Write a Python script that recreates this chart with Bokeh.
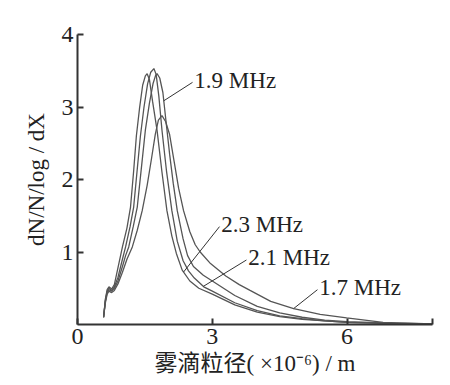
import numpy as np
from bokeh.plotting import figure
from bokeh.models import Range1d, FixedTicker, ColumnDataSource
from bokeh.core.properties import value
from bokeh.embed import file_html
from bokeh.resources import INLINE

# Series: 2.3 MHz
x_23 = [0.58, 0.62, 0.66, 0.70, 0.76, 0.82, 0.90, 1.00, 1.10, 1.18, 1.25, 1.31, 1.38, 1.45, 1.51, 1.55,
        1.60, 1.67, 1.77, 1.88, 1.99, 2.10, 2.20, 2.33, 2.50, 2.70, 3.00, 3.50, 4.00, 4.50, 5.00, 5.50, 6.00, 7.00, 7.90]
y_23 = [0.10, 0.35, 0.48, 0.52, 0.49, 0.55, 0.78, 1.07, 1.33, 1.62, 2.12, 2.60, 2.98, 3.30, 3.43, 3.46,
        3.38, 3.08, 2.68, 2.10, 1.57, 1.22, 0.98, 0.75, 0.60, 0.50, 0.42, 0.27, 0.17, 0.11, 0.07, 0.05, 0.03, 0.015, 0.01]
# Series: 2.1 MHz
x_21 = [0.58, 0.62, 0.66, 0.70, 0.76, 0.82, 0.90, 1.00, 1.07, 1.17, 1.25, 1.32, 1.40, 1.48, 1.56, 1.63, 1.70,
        1.75, 1.81, 1.88, 1.98, 2.10, 2.22, 2.35, 2.47, 2.60, 2.81, 3.00, 3.50, 4.00, 4.50, 5.00, 5.50, 6.00, 7.00, 7.90]
y_21 = [0.10, 0.33, 0.46, 0.50, 0.47, 0.52, 0.65, 0.90, 1.07, 1.35, 1.62, 2.08, 2.60, 3.00, 3.32, 3.48, 3.53,
        3.45, 3.15, 2.68, 2.12, 1.57, 1.15, 0.88, 0.74, 0.64, 0.52, 0.46, 0.30, 0.19, 0.12, 0.08, 0.05, 0.03, 0.015, 0.01]
# Series: 1.9 MHz
x_19 = [0.58, 0.62, 0.66, 0.70, 0.76, 0.82, 0.90, 1.00, 1.07, 1.14, 1.24, 1.33, 1.42, 1.51, 1.60, 1.68, 1.74, 1.77,
        1.83, 1.90, 1.97, 2.05, 2.13, 2.22, 2.35, 2.45, 2.58, 2.80, 3.00, 3.50, 4.00, 4.50, 5.00, 5.50, 6.00, 7.00, 7.90]
y_19 = [0.10, 0.32, 0.44, 0.48, 0.46, 0.50, 0.60, 0.80, 0.95, 1.07, 1.35, 1.62, 2.15, 2.68, 3.05, 3.32, 3.44, 3.46,
        3.40, 3.20, 2.80, 2.35, 1.95, 1.57, 1.18, 0.95, 0.80, 0.68, 0.60, 0.40, 0.25, 0.16, 0.10, 0.06, 0.04, 0.02, 0.01]
# Series: 1.7 MHz
x_17 = [0.58, 0.62, 0.66, 0.70, 0.76, 0.82, 0.90, 1.00, 1.10, 1.22, 1.33, 1.44, 1.55, 1.65, 1.73, 1.80, 1.88,
        1.96, 2.05, 2.15, 2.25, 2.36, 2.50, 2.62, 2.73, 2.96, 3.30, 3.60, 3.84, 4.30, 4.81, 5.40, 5.99, 6.80, 7.90]
y_17 = [0.10, 0.30, 0.42, 0.46, 0.44, 0.47, 0.56, 0.72, 0.90, 1.07, 1.30, 1.57, 1.92, 2.30, 2.62, 2.82, 2.88,
        2.80, 2.62, 2.25, 1.88, 1.57, 1.28, 1.10, 1.00, 0.84, 0.67, 0.55, 0.47, 0.32, 0.22, 0.14, 0.09, 0.03, 0.01]

series_names = ["2.3 MHz", "2.1 MHz", "1.9 MHz", "1.7 MHz"]
series_x = [x_23, x_21, x_19, x_17]
series_y = [y_23, y_21, y_19, y_17]

# Callouts: x on curve where pointer starts, and label anchor (x, y)
pointer_x = [2.36, 2.80, 1.92, 4.81]
label_x = [3.20, 3.80, 2.60, 5.38]
label_y = [1.38, 0.92, 3.37, 0.51]

x_ticks = [0, 3, 6, 7.9]
y_ticks = [1, 2, 3, 4]

SERIF = "Liberation Serif"
p = figure(width=450, height=385, output_backend="svg", toolbar_location=None,
           x_range=Range1d(0, 7.9), y_range=Range1d(0, 4),
           min_border_left=77, min_border_right=18, min_border_top=34, min_border_bottom=61)
p.outline_line_color = None
p.grid.visible = False
p.background_fill_color = "white"

line_color = "#555555"
for xs, ys in zip(series_x, series_y):
    p.line(xs, ys, line_color=line_color, line_width=1.3)

# Pointer lines from curves to labels
px0 = []
py0 = []
for i, xs in enumerate(series_x):
    px0.append(pointer_x[i])
    py0.append(float(np.interp(pointer_x[i], xs, series_y[i])))
p.segment(x0=px0, y0=py0, x1=[lx - 0.04 for lx in label_x], y1=[ly - 0.03 for ly in label_y],
          line_color="#333333", line_width=1)
src = ColumnDataSource(dict(x=label_x, y=label_y, t=series_names))
p.text(x="x", y="y", text="t", source=src, text_font=value(SERIF), text_font_size="23px",
       text_color="#222222", text_baseline="middle", text_align="left")

for ax in (p.xaxis[0], p.yaxis[0]):
    ax.axis_line_color = "#333333"
    ax.axis_line_width = 2
    ax.major_tick_line_color = "#333333"
    ax.major_tick_line_width = 2
    ax.major_tick_in = 6
    ax.major_tick_out = 0
    ax.minor_tick_line_color = None
    ax.major_label_text_font = SERIF
    ax.major_label_text_font_size = "24px"
    ax.major_label_text_color = "#222222"
    ax.axis_label_text_font = "'Liberation Serif', 'Noto Sans CJK SC'"
    ax.axis_label_text_font_size = "23px"
    ax.axis_label_text_font_style = "normal"
    ax.axis_label_text_color = "#222222"

p.xaxis.ticker = FixedTicker(ticks=x_ticks)
p.xaxis.major_label_overrides = {7.9: ""}
p.yaxis.ticker = FixedTicker(ticks=y_ticks)
p.xaxis.axis_label = "雾滴粒径( ×10⁻⁶) / m"
p.yaxis.axis_label = "dN/N/log / dX"
p.xaxis.major_label_standoff = 4
p.xaxis.axis_label_standoff = 4
p.yaxis.major_label_standoff = 4
p.yaxis.axis_label_standoff = 10

open("out.html", "w").write(file_html(p, INLINE))
